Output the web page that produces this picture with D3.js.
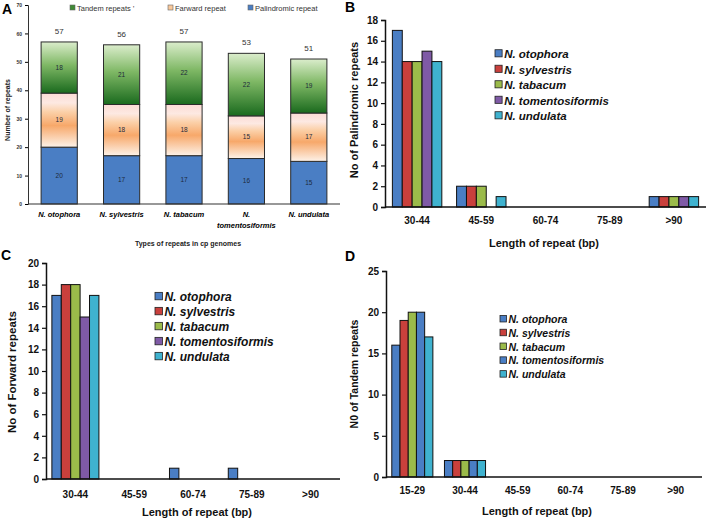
<!DOCTYPE html>
<html><head><meta charset="utf-8">
<script src="https://cdn.jsdelivr.net/npm/d3@7"></script>
<style>
body{margin:0;background:#fff;}
svg{display:block;font-family:"Liberation Sans",Arial,sans-serif;}
</style></head>
<body>
<svg id="c" width="708" height="522"></svg>
<script>
// ---------- DATA ----------
const species = ["N. otophora","N. sylvestris","N. tabacum","N. tomentosiformis","N. undulata"];
const palindromicA = [20,17,17,16,15];
const forwardA = [19,18,18,15,17];
const tandemA = [18,21,22,22,19];
const totalsA = [57,56,57,53,51];
const ticksA = [0,10,20,30,40,50,60,70];

const lenCatsB = ["30-44","45-59","60-74","75-89",">90"];
const palB = {
  "N. otophora":[17,2,0,0,1],
  "N. sylvestris":[14,2,0,0,1],
  "N. tabacum":[14,2,0,0,1],
  "N. tomentosiformis":[15,0,0,0,1],
  "N. undulata":[14,1,0,0,1]
};
const lenCatsC = ["30-44","45-59","60-74","75-89",">90"];
const fwdC = {
  "N. otophora":[17,0,1,1,0],
  "N. sylvestris":[18,0,0,0,0],
  "N. tabacum":[18,0,0,0,0],
  "N. tomentosiformis":[15,0,0,0,0],
  "N. undulata":[17,0,0,0,0]
};
const lenCatsD = ["15-29","30-44","45-59","60-74","75-89",">90"];
const tanD = {
  "N. otophora":[16,2,0,0,0,0],
  "N. sylvestris":[19,2,0,0,0,0],
  "N. tabacum":[20,2,0,0,0,0],
  "N. tomentosiformis":[20,2,0,0,0,0],
  "N. undulata":[17,2,0,0,0,0]
};
const colorsBC = ["#4a7ec4","#c9403c","#9bbb4a","#7f5aa6","#3fb2cf"];
const colorsD = ["#4a7ec4","#c9403c","#9bbb4a","#4a7ec4","#3fb2cf"];

const svg = d3.select("#c");
const defs = svg.append("defs");

const gT = defs.append("linearGradient").attr("id","gT").attr("x1",0).attr("y1",0).attr("x2",0).attr("y2",1);
[[0,"#dbedcc"],[0.45,"#7fb865"],[1,"#1a6a1e"]].forEach(s=>gT.append("stop").attr("offset",s[0]).attr("stop-color",s[1]));
const gF = defs.append("linearGradient").attr("id","gF").attr("x1",0).attr("y1",0).attr("x2",0).attr("y2",1);
[[0,"#fbdcd6"],[0.18,"#fde9e2"],[0.35,"#fbd0a8"],[0.6,"#f7a86a"],[1,"#fdf2e8"]].forEach(s=>gF.append("stop").attr("offset",s[0]).attr("stop-color",s[1]));

function panelLetter(t,x,y){
  svg.append("text").attr("x",x).attr("y",y).attr("font-size",14).attr("font-weight","bold").text(t);
}

// ---------- PANEL A ----------
(function(){
  const x = d3.scaleBand().domain(species).range([28,340]).padding(0);
  const y = d3.scaleLinear().domain([0,70]).range([204,5]);
  const g = svg.append("g");
  const bw = x.bandwidth()*0.58;
  const series = [
    {name:"Palindromic repeat", vals:palindromicA, fill:"#4a7ec4"},
    {name:"Farward repeat", vals:forwardA, fill:"url(#gF)"},
    {name:"Tandem repeats", vals:tandemA, fill:"url(#gT)"}
  ];
  species.forEach((s,i)=>{
    let base=0;
    series.forEach(se=>{
      const v=se.vals[i];
      const cx = x(s)+x.bandwidth()/2;
      g.append("rect").attr("x",cx-bw/2).attr("y",y(base+v)).attr("width",bw).attr("height",y(base)-y(base+v))
        .attr("fill",se.fill).attr("stroke","#2b2b2b").attr("stroke-width",1);
      g.append("text").attr("x",cx).attr("y",(y(base)+y(base+v))/2+2).attr("text-anchor","middle")
        .attr("font-size",6.5).attr("fill","#1d2a3a").text(v);
      base+=v;
    });
    g.append("text").attr("x",x(s)+x.bandwidth()/2).attr("y",y(totalsA[i])-8).attr("text-anchor","middle")
      .attr("font-size",8).attr("fill","#333").text(totalsA[i]);
  });
  const ax = g.append("g").attr("transform","translate(28,0)").call(d3.axisLeft(y).tickValues(ticksA).tickSize(3));
  ax.select(".domain").attr("stroke","#333");
  ax.selectAll("text").attr("font-size",5).attr("font-weight","bold").attr("fill","#333");
  g.append("line").attr("x1",28).attr("x2",340).attr("y1",y(0)).attr("y2",y(0)).attr("stroke","#333").attr("stroke-width",1.2);
  species.forEach(s=>{
    const cx=x(s)+x.bandwidth()/2;
    const t=g.append("text").attr("text-anchor","middle").attr("font-size",7.5).attr("font-weight","bold").attr("font-style","italic");
    if(s==="N. tomentosiformis"){
      t.append("tspan").attr("x",cx).attr("y",217).text("N.");
      t.append("tspan").attr("x",cx).attr("y",228).text("tomentosiformis");
    } else t.attr("x",cx).attr("y",217).text(s);
  });
  g.append("text").attr("x",188).attr("y",246).attr("text-anchor","middle").attr("font-size",7).attr("font-weight","bold").attr("fill","#222").text("Types of repeats in cp genomes");
  g.append("text").attr("transform","translate(10,110) rotate(-90)").attr("text-anchor","middle").attr("font-size",7).attr("font-weight","bold").attr("fill","#222").text("Number of repeats");
  const leg=[["Tandem repeats \u2019","#3f8a35",70],["Farward repeat","#f9c89a",168],["Palindromic repeat","#4a7ec4",248]];
  leg.forEach(l=>{
    g.append("rect").attr("x",l[2]).attr("y",5).attr("width",5).attr("height",5).attr("fill",l[1]).attr("stroke","#666").attr("stroke-width",0.6);
    g.append("text").attr("x",l[2]+7).attr("y",10.5).attr("font-size",7.5).attr("fill","#333").text(l[0]);
  });
  panelLetter("A",2,14);
})();

// ---------- grouped bar panels ----------
function grouped(opts){
  const {cats,data,colors,x0,x1,y0,yTop,ymax,ticks,frac,legX,legY,legStep,legFont,ylabel,ylabX,ylabY,ylabFont,xlabY,xlabX,tickY} = opts;
  const g=svg.append("g");
  const x=d3.scaleBand().domain(cats).range([x0,x1]).padding(0);
  const xs=d3.scaleBand().domain(species).range([x.bandwidth()*(1-frac)/2, x.bandwidth()*(1+frac)/2]).padding(0);
  const y=d3.scaleLinear().domain([0,ymax]).range([y0,yTop]);
  species.forEach((s,si)=>{
    data[s].forEach((v,ci)=>{
      if(v<=0) return;
      g.append("rect").attr("x",x(cats[ci])+xs(s)).attr("y",y(v)).attr("width",xs.bandwidth()).attr("height",y(0)-y(v))
        .attr("fill",colors[si]).attr("stroke","#111").attr("stroke-width",1);
    });
  });
  const ax=g.append("g").attr("transform",`translate(${x0},0)`).call(d3.axisLeft(y).tickValues(ticks).tickSize(4).tickPadding(3));
  ax.select(".domain").attr("stroke","#111").attr("stroke-width",1.5);
  ax.selectAll(".tick line").attr("stroke","#111").attr("stroke-width",1.2);
  ax.selectAll("text").attr("font-size",10).attr("font-weight","bold").attr("fill","#111");
  g.append("line").attr("x1",x0).attr("x2",x1).attr("y1",y(0)).attr("y2",y(0)).attr("stroke","#111").attr("stroke-width",1.5);
  cats.forEach(c=>{
    g.append("text").attr("x",x(c)+x.bandwidth()/2).attr("y",tickY).attr("text-anchor","middle").attr("font-size",10).attr("font-weight","bold").attr("fill","#111").text(c);
  });
  g.append("text").attr("x",xlabX).attr("y",xlabY).attr("text-anchor","middle").attr("font-size",11).attr("font-weight","bold").attr("fill","#111").text("Length of repeat (bp)");
  g.append("text").attr("transform",`translate(${ylabX},${ylabY}) rotate(-90)`).attr("text-anchor","middle").attr("font-size",ylabFont).attr("font-weight","bold").attr("fill","#111").text(ylabel);
  species.forEach((s,i)=>{
    const yy=legY+i*legStep;
    g.append("rect").attr("x",legX).attr("y",yy-legFont*0.72).attr("width",legFont*0.62).attr("height",legFont*0.62).attr("fill",colors[i]).attr("stroke","#222").attr("stroke-width",0.8);
    g.append("text").attr("x",legX+legFont*0.62+2).attr("y",yy).attr("font-size",legFont).attr("font-weight","bold").attr("font-style","italic").attr("fill","#111").text(s);
  });
}

grouped({cats:lenCatsB,data:palB,colors:colorsBC,x0:385,x1:706,y0:207,yTop:20,ymax:18,ticks:d3.range(0,19,2),frac:0.77,
  legX:495,legY:58,legStep:15.5,legFont:11.5,ylabel:"No of Palindromic repeats",ylabX:358,ylabY:110,ylabFont:11,xlabX:544,xlabY:247,tickY:224});
panelLetter("B",345,12);

grouped({cats:lenCatsC,data:fwdC,colors:colorsBC,x0:46,x1:340,y0:479,yTop:263,ymax:20,ticks:d3.range(0,21,2),frac:0.8,
  legX:155,legY:301,legStep:15,legFont:12,ylabel:"No of Forward repeats",ylabX:16,ylabY:372,ylabFont:11.5,xlabX:197,xlabY:516,tickY:498});
panelLetter("C",1,260);

grouped({cats:lenCatsD,data:tanD,colors:colorsD,x0:386,x1:702,y0:477,yTop:271,ymax:25,ticks:d3.range(0,26,5),frac:0.78,
  legX:500,legY:323,legStep:13.8,legFont:10.5,ylabel:"N0 of  Tandem repeats",ylabX:358,ylabY:374,ylabFont:10.5,xlabX:537,xlabY:515,tickY:494});
panelLetter("D",345,261);
</script>
</body></html>
